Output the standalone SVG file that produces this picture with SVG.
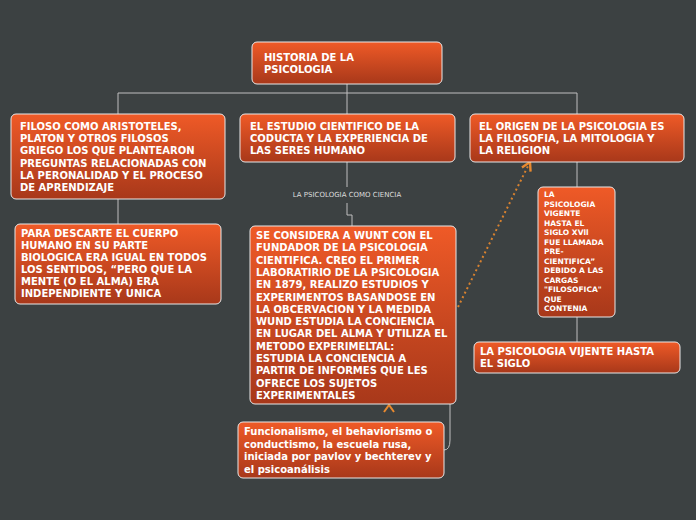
<svg xmlns="http://www.w3.org/2000/svg" width="696" height="520" viewBox="0 0 696 520">
<defs>
<linearGradient id="g" x1="0" y1="0" x2="0" y2="1"><stop offset="0" stop-color="#ef5a27"/><stop offset="1" stop-color="#a8381a"/></linearGradient>
<marker id="ah" viewBox="0 0 10 10" refX="8" refY="5" markerWidth="6" markerHeight="6" orient="auto"><path d="M1,1 L8,5 L1,9" fill="none" stroke="#e8892f" stroke-width="2"/></marker>
</defs>
<style>
.n{fill:url(#g);stroke:#e8e8e8;stroke-width:1}
.t{font-family:"DejaVu Sans",sans-serif;font-weight:bold;font-size:10px;fill:#fff}
.s{font-size:7.5px}
.c{fill:none;stroke:#bfbfbf;stroke-width:1}
</style>
<rect width="696" height="520" fill="#3c4142"/>
<g id="connectors">
<path class="c" d="M347,84V93M118,93H577M118,93V114M347,93V114M577,93V114"/>
<path class="c" d="M347,162V187M347,203V215H352V226"/>
<path class="c" d="M118,199V224M577,162V187M577,317V342"/>
<path class="c" d="M450,404V440Q450,450 444,450"/>
<path d="M458,307L530,162" fill="none" stroke="#d9822f" stroke-width="2" stroke-dasharray="2,3" marker-end="url(#ah)"/>
<path d="M384,412L389,405L394,412" fill="none" stroke="#e8892f" stroke-width="2"/>
<text x="347" y="197" text-anchor="middle" font-family="DejaVu Sans,sans-serif" font-size="7" fill="#dddddd">LA PSICOLOGIA COMO CIENCIA</text>
</g>
<g id="root"><rect class="n" x="252" y="42" width="190" height="42" rx="5"/><text class="t" x="264" y="61">HISTORIA DE LA<tspan x="264" dy="12">PSICOLOGIA</tspan></text></g>
<g id="left"><rect class="n" x="11" y="114" width="214" height="85" rx="5"/><text class="t" x="20" y="130">FILOSO COMO ARISTOTELES,<tspan x="20" dy="12.2">PLATON Y OTROS FILOSOS</tspan><tspan x="20" dy="12.2">GRIEGO LOS QUE PLANTEARON</tspan><tspan x="20" dy="12.2">PREGUNTAS RELACIONADAS CON</tspan><tspan x="20" dy="12.2">LA PERONALIDAD Y EL PROCESO</tspan><tspan x="20" dy="12.2">DE APRENDIZAJE</tspan></text></g>
<g id="mid"><rect class="n" x="240" y="114" width="215" height="48" rx="5"/><text class="t" x="250" y="130">EL ESTUDIO CIENTIFICO DE LA<tspan x="250" dy="12">CODUCTA Y LA EXPERIENCIA DE</tspan><tspan x="250" dy="12">LAS SERES HUMANO</tspan></text></g>
<g id="right"><rect class="n" x="470" y="114" width="214" height="48" rx="5"/><text class="t" x="479" y="130">EL ORIGEN DE LA PSICOLOGIA ES<tspan x="479" dy="12">LA FILOSOFIA, LA MITOLOGIA Y</tspan><tspan x="479" dy="12">LA RELIGION</tspan></text></g>
<g id="left2"><rect class="n" x="15" y="224" width="206" height="80" rx="5"/><text class="t" x="21" y="237">PARA DESCARTE EL CUERPO<tspan x="21" dy="12">HUMANO EN SU PARTE</tspan><tspan x="21" dy="12">BIOLOGICA ERA IGUAL EN TODOS</tspan><tspan x="21" dy="12">LOS SENTIDOS, “PERO QUE LA</tspan><tspan x="21" dy="12">MENTE (O EL ALMA) ERA</tspan><tspan x="21" dy="12">INDEPENDIENTE Y UNICA</tspan></text></g>
<g id="wunt"><rect class="n" x="250" y="226" width="206" height="178" rx="5"/><text class="t" x="256" y="239">SE CONSIDERA A WUNT CON EL<tspan x="256" dy="12.3">FUNDADOR DE LA PSICOLOGIA</tspan><tspan x="256" dy="12.3">CIENTIFICA. CREO EL PRIMER</tspan><tspan x="256" dy="12.3">LABORATIRIO DE LA PSICOLOGIA</tspan><tspan x="256" dy="12.3">EN 1879, REALIZO ESTUDIOS Y</tspan><tspan x="256" dy="12.3">EXPERIMENTOS BASANDOSE EN</tspan><tspan x="256" dy="12.3">LA OBCERVACION Y LA MEDIDA</tspan><tspan x="256" dy="12.3">WUND ESTUDIA LA CONCIENCIA</tspan><tspan x="256" dy="12.3">EN LUGAR DEL ALMA Y UTILIZA EL</tspan><tspan x="256" dy="12.3">METODO EXPERIMELTAL:</tspan><tspan x="256" dy="12.3">ESTUDIA LA CONCIENCIA A</tspan><tspan x="256" dy="12.3">PARTIR DE INFORMES QUE LES</tspan><tspan x="256" dy="12.3">OFRECE LOS SUJETOS</tspan><tspan x="256" dy="12.3">EXPERIMENTALES</tspan></text></g>
<g id="func"><rect class="n" x="238" y="422" width="206" height="56" rx="5"/><text class="t" x="244" y="435">Funcionalismo, el behaviorismo o<tspan x="244" dy="12.5">conductismo, la escuela rusa,</tspan><tspan x="244" dy="12.5">iniciada por pavlov y bechterev y</tspan><tspan x="244" dy="12.5">el psicoanálisis</tspan></text></g>
<g id="right2"><rect class="n" x="538" y="187" width="77" height="130" rx="5"/><text class="t s" x="544" y="197">LA<tspan x="544" dy="9.5">PSICOLOGIA</tspan><tspan x="544" dy="9.5">VIGENTE</tspan><tspan x="544" dy="9.5">HASTA EL</tspan><tspan x="544" dy="9.5">SIGLO XVll</tspan><tspan x="544" dy="9.5">FUE LLAMADA</tspan><tspan x="544" dy="9.5">PRE-</tspan><tspan x="544" dy="9.5">CIENTIFICA”</tspan><tspan x="544" dy="9.5">DEBIDO A LAS</tspan><tspan x="544" dy="9.5">CARGAS</tspan><tspan x="544" dy="9.5">"FILOSOFICA"</tspan><tspan x="544" dy="9.5">QUE</tspan><tspan x="544" dy="9.5">CONTENIA</tspan></text></g>
<g id="right3"><rect class="n" x="474" y="342" width="206" height="31" rx="5"/><text class="t" x="480" y="355">LA PSICOLOGIA VIJENTE HASTA<tspan x="480" dy="12">EL SIGLO</tspan></text></g>
</svg>
